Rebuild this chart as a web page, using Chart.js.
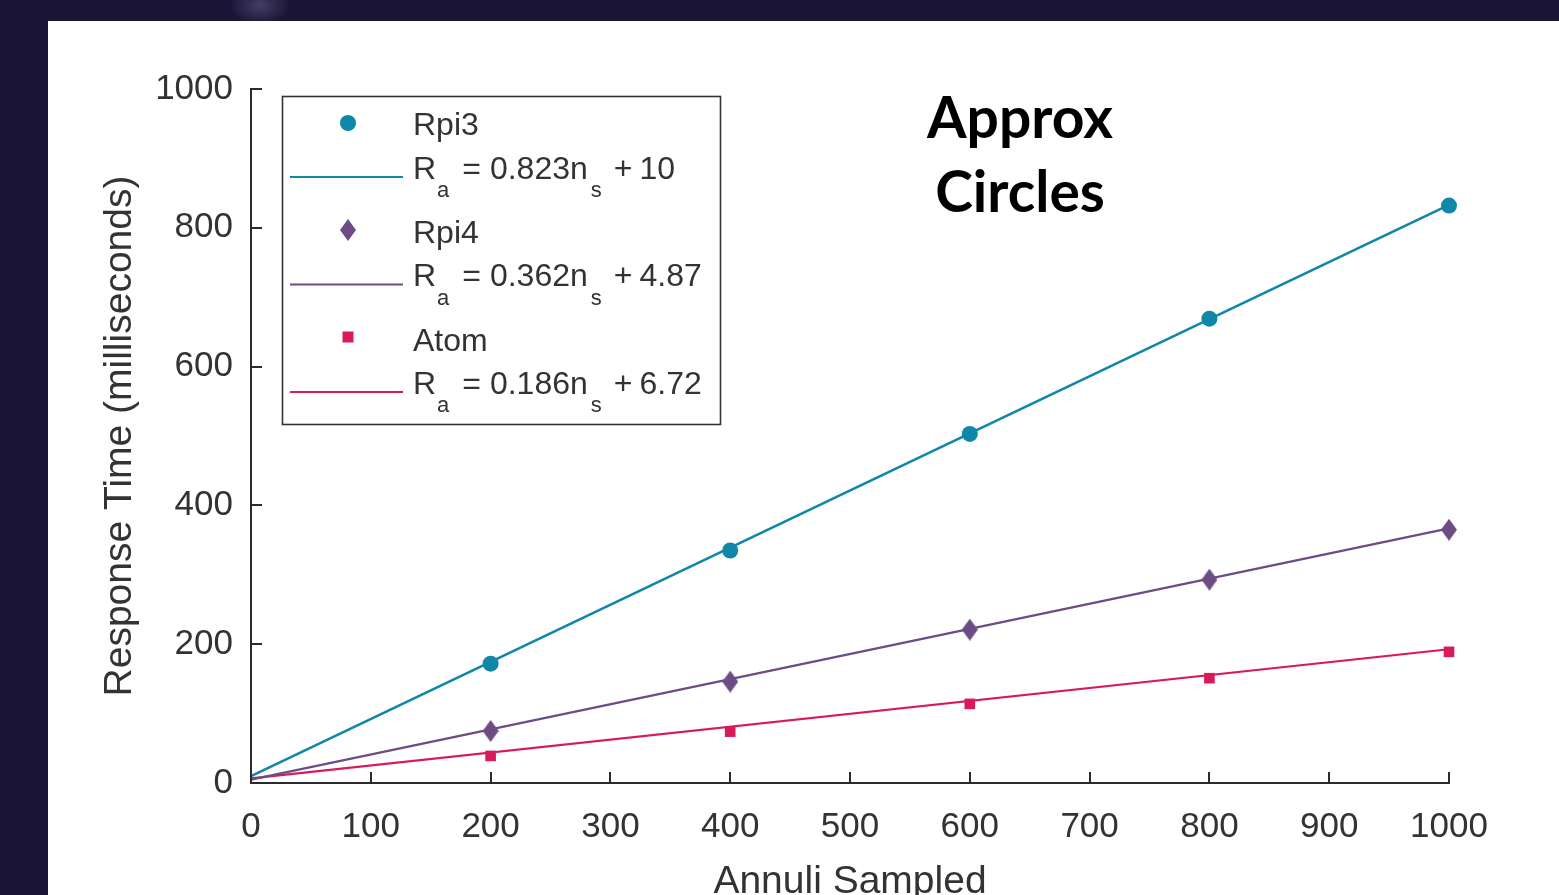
<!DOCTYPE html>
<html>
<head>
<meta charset="utf-8">
<script src="https://cdn.jsdelivr.net/npm/chart.js@4.4.1/dist/chart.umd.min.js"></script>
<style>
  html, body { margin: 0; padding: 0; width: 1559px; height: 895px; overflow: hidden; background: #1b1535; }
  #panel { position: absolute; left: 48px; top: 21px; width: 1511px; height: 900px; background: #ffffff; }
  #c { position: absolute; left: 0; top: 0; }
  #title { position: absolute; left: 772px; top: 58px; width: 400px; text-align: center;
           font-family: Lato, "Open Sans", sans-serif; font-weight: 700; font-size: 57px; line-height: 74px; color: #000; }
  .glow { position: absolute; border-radius: 50%; pointer-events: none; }
</style>
</head>
<body>
<div class="glow" style="left:230px;top:-15px;width:60px;height:40px;background:radial-gradient(closest-side, rgba(120,110,160,0.45), rgba(27,21,53,0));"></div>
<div id="panel">
  <canvas id="c" width="1511" height="900"></canvas>
  <div id="title">Approx<br>Circles</div>
</div>
<script>
// ---- data ----
const annuli   = [200, 400, 600, 800, 1000];
const rpi3     = [172, 335, 503, 669, 832];
const rpi4     = [75, 146, 221, 293, 365];
const atom     = [39, 74, 114, 151, 189];
const fitX     = [0, 1000];
const rpi3Fit  = [10, 833];
const rpi4Fit  = [4.87, 366.87];
const atomFit  = [6.72, 192.72];
const seriesNames  = ['Rpi3', 'Rpi4', 'Atom'];
const fitSlopes    = ['0.823', '0.362', '0.186'];
const fitIntercepts = ['10', '4.87', '6.72'];
const xTicks = [0, 100, 200, 300, 400, 500, 600, 700, 800, 900, 1000];
const yTicks = [0, 200, 400, 600, 800, 1000];
const xTitle = 'Annuli Sampled';
const yTitle = 'Response Time (milliseconds)';

// ---- styles ----
const colors = ['#0f87a8', '#6d4b85', '#d91a59'];
const axisColor = '#2b2b2b';
const textColor = '#333333';
const tickFont = { family: '"Liberation Sans", Arial, sans-serif', size: 35 };
const titleFont = { family: '"Liberation Sans", Arial, sans-serif', size: 39 };

function pts(xs, ys) { return xs.map((x, i) => ({ x: x, y: ys[i] })); }

// tall diamond marker like MATLAB 'd'
function diamondImg(w, h, color) {
  const cv = document.createElement('canvas');
  cv.width = w; cv.height = h;
  const g = cv.getContext('2d');
  g.fillStyle = color;
  g.beginPath();
  g.moveTo(w / 2, 0); g.lineTo(w, h / 2); g.lineTo(w / 2, h); g.lineTo(0, h / 2);
  g.closePath(); g.fill();
  return cv;
}
const diamond = diamondImg(16, 22, colors[1]);

const markerStyles = [
  { pointStyle: 'circle', pointRadius: 8 },
  { pointStyle: diamond, pointRadius: 9 },
  { pointStyle: 'rect', pointRadius: 7.5 }
];

const markerSets = [rpi3, rpi4, atom];
const fitSets = [rpi3Fit, rpi4Fit, atomFit];

const datasets = [];
markerSets.forEach((ys, i) => {
  datasets.push({
    label: seriesNames[i],
    data: pts(annuli, ys),
    showLine: false,
    pointStyle: markerStyles[i].pointStyle,
    pointRadius: markerStyles[i].pointRadius,
    pointBackgroundColor: colors[i],
    pointBorderColor: colors[i],
    pointBorderWidth: 0,
    clip: false,
    order: 0
  });
});
fitSets.forEach((ys, i) => {
  datasets.push({
    label: seriesNames[i] + ' fit',
    data: pts(fitX, ys),
    showLine: true,
    borderColor: colors[i],
    borderWidth: i === 0 ? 2.6 : 2.2,
    pointRadius: 0,
    clip: false,
    order: 1
  });
});

// inward tick marks drawn through the chart's own scales
const inwardTicks = {
  id: 'inwardTicks',
  afterDatasetsDraw(chart) {
    const ctx = chart.ctx;
    const xs = chart.scales.x, ys = chart.scales.y;
    const L = 11;
    ctx.save();
    ctx.strokeStyle = axisColor;
    ctx.lineWidth = 2;
    ctx.beginPath();
    xTicks.forEach(v => {
      const px = Math.round(xs.getPixelForValue(v));
      ctx.moveTo(px, ys.bottom);
      ctx.lineTo(px, ys.bottom - L);
    });
    yTicks.forEach(v => {
      const py = Math.round(ys.getPixelForValue(v));
      ctx.moveTo(xs.left, py);
      ctx.lineTo(xs.left + L, py);
    });
    ctx.stroke();
    ctx.restore();
  }
};

// MATLAB-style legend box
const matlabLegend = {
  id: 'matlabLegend',
  afterDraw(chart) {
    const ctx = chart.ctx;
    ctx.save();
    ctx.fillStyle = '#ffffff';
    ctx.fillRect(234, 75, 439, 329);
    ctx.strokeStyle = '#333333';
    ctx.lineWidth = 1.6;
    ctx.strokeRect(234.5, 75.5, 438, 328);
    const mainF = '32px "Liberation Sans", Arial, sans-serif';
    const subF = '22px "Liberation Sans", Arial, sans-serif';
    const textX = 365;
    for (let i = 0; i < 3; i++) {
      const nameY = 105 + i * 108;
      const eqY = 149 + i * 107.5;
      const markY = 102 + i * 107;
      const lineY = eqY + 7;
      // marker
      ctx.fillStyle = colors[i];
      if (i === 0) {
        ctx.beginPath(); ctx.arc(300, markY, 8, 0, Math.PI * 2); ctx.fill();
      } else if (i === 1) {
        ctx.drawImage(diamond, 300 - 8, markY - 11);
      } else {
        ctx.fillRect(300 - 5.5, markY - 5.5, 11, 11);
      }
      // line
      ctx.strokeStyle = colors[i];
      ctx.lineWidth = 2.2;
      ctx.beginPath(); ctx.moveTo(242, lineY); ctx.lineTo(355, lineY); ctx.stroke();
      // text
      ctx.fillStyle = textColor;
      ctx.textBaseline = 'middle';
      ctx.textAlign = 'left';
      ctx.font = mainF;
      ctx.fillText(seriesNames[i], textX, nameY);
      // equation: R_a = slope n_s + intercept
      const parts = [
        ['R', false, 0], ['a', true, 1], ['= ' + fitSlopes[i] + 'n', false, 13], ['s', true, 3], ['+', false, 12], [fitIntercepts[i], false, 7]
      ];
      let x = textX;
      parts.forEach(([t, sub, gap]) => {
        x += gap;
        ctx.font = sub ? subF : mainF;
        ctx.fillText(t, x, sub ? eqY + 21 : eqY);
        x += ctx.measureText(t).width;
      });
    }
    ctx.restore();
  }
};

new Chart(document.getElementById('c'), {
  type: 'scatter',
  data: { datasets: datasets },
  options: {
    responsive: false,
    animation: false,
    devicePixelRatio: 1,
    layout: { padding: { top: 68, right: 110, left: 0, bottom: 0 } },
    plugins: { legend: { display: false }, tooltip: { enabled: false }, title: { display: false } },
    scales: {
      x: {
        type: 'linear', min: 0, max: 1000,
        afterBuildTicks(s) { s.ticks = xTicks.map(v => ({ value: v })); },
        afterFit(s) { s.height = 138; },
        grid: { display: false, drawTicks: false },
        border: { display: true, color: axisColor, width: 2 },
        ticks: { color: textColor, font: tickFont, padding: 23, maxRotation: 0, autoSkip: false,
                 callback: v => String(v) },
        title: { display: true, text: xTitle, color: textColor, font: titleFont, padding: { top: 0, bottom: 15 } }
      },
      y: {
        type: 'linear', min: 0, max: 1000,
        afterBuildTicks(s) { s.ticks = yTicks.map(v => ({ value: v })); },
        afterFit(s) { s.width = 203; },
        grid: { display: false, drawTicks: false },
        border: { display: true, color: axisColor, width: 2 },
        ticks: { color: textColor, font: tickFont, padding: 18, autoSkip: false,
                 callback: v => String(v) },
        title: { display: true, text: yTitle, color: textColor, font: titleFont, padding: { top: 49, bottom: 0 } }
      }
    }
  },
  plugins: [inwardTicks, matlabLegend]
});
</script>
</body>
</html>
